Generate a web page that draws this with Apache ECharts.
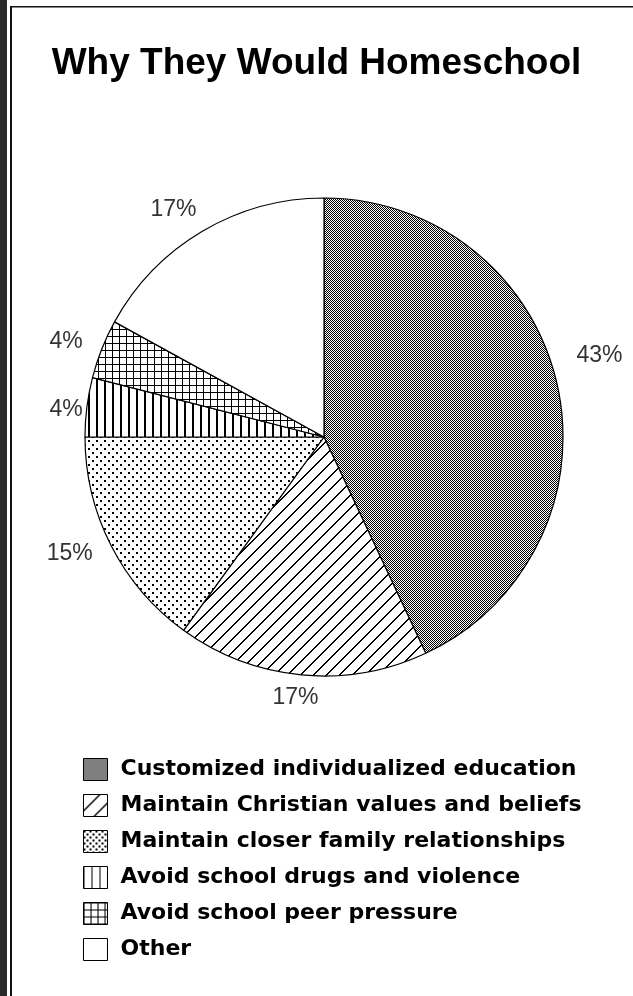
<!DOCTYPE html>
<html><head><meta charset="utf-8">
<script src="https://cdn.jsdelivr.net/npm/echarts@6/dist/echarts.min.js"></script>
<style>html,body{margin:0;padding:0;background:#fff}#c{width:633px;height:996px}</style>
</head><body><div id="c"></div>
<script>
const titleText = 'Why They Would Homeschool';
const categories = [
  'Customized individualized education',
  'Maintain Christian values and beliefs',
  'Maintain closer family relationships',
  'Avoid school drugs and violence',
  'Avoid school peer pressure',
  'Other'
];
const values = [43, 17, 15, 4, 4, 17];
const valueLabels = ['43%', '17%', '15%', '4%', '4%', '17%'];

// small nudges for label text (style tweak, px)
const labelNudge = [[10, -22], [-3, -10], [-12, -7], [12, 7], [-5, 5], [-12, 7]];

function pat(w, h, draw) {
  const c = document.createElement('canvas');
  c.width = w; c.height = h;
  const g = c.getContext('2d');
  g.fillStyle = '#fff'; g.fillRect(0, 0, w, h);
  g.fillStyle = '#000';
  draw(g, w, h);
  return { image: c, repeat: 'repeat' };
}
const checker = () => pat(2, 2, g => { g.fillRect(0, 0, 1, 1); g.fillRect(1, 1, 1, 1); });
const diag = p => pat(p, p, g => { for (let i = 0; i < p; i++) { g.fillRect(i, p - 1 - i, 1, 1); g.fillRect((i + 1) % p, p - 1 - i, 1, 1); } });
const dots = p => pat(p, p, g => { g.fillRect(0, 0, 2, 2); g.fillRect(p / 2, p / 2, 2, 2); });
const vert = (p, w) => pat(p, p, g => { g.fillRect(0, 0, w, p); });
const grid = p => pat(p, p, g => { g.fillRect(0, 0, 1, p); g.fillRect(0, 0, p, 1); });

const piePatterns = [checker(), diag(13), dots(8), vert(8, 2), grid(7), '#fff'];
const legendPatterns = [checker(), diag(16), dots(6), vert(8, 1), grid(7), '#fff'];

const chart = echarts.init(document.getElementById('c'), null, { renderer: 'canvas' });
const center = [324, 437];
const R = 239;

chart.setOption({
  backgroundColor: '#fff',
  animation: false,
  title: {
    text: titleText, left: 'center', top: 45, padding: 0,
    textStyle: { fontFamily: 'Liberation Sans, Arial, sans-serif', fontWeight: 'bold', fontSize: 37, color: '#000' }
  },
  legend: {
    orient: 'vertical', left: 83, top: 758, padding: 0,
    itemWidth: 24, itemHeight: 22, itemGap: 13, icon: 'rect',
    textStyle: { fontFamily: 'DejaVu Sans, Verdana, sans-serif', fontWeight: 'bold', fontSize: 22, color: '#000', padding: [0, 0, 0, 8] },
    data: categories.map((n, i) => ({ name: n, itemStyle: { color: legendPatterns[i], borderColor: '#000', borderWidth: 1 } })),
    selectedMode: false
  },
  graphic: [
    { type: 'rect', shape: { x: 0, y: 0, width: 7, height: 996 }, style: { fill: '#2a2a2a' }, silent: true },
    { type: 'rect', shape: { x: 10, y: 6, width: 2, height: 990 }, style: { fill: '#111' }, silent: true },
    { type: 'rect', shape: { x: 10, y: 6, width: 623, height: 1.5 }, style: { fill: '#111' }, silent: true }
  ],
  series: [
    {
      type: 'pie', center: center, radius: [0, R], startAngle: 90, clockwise: true,
      avoidLabelOverlap: false, silent: true,
      emphasis: { disabled: true },
      label: { show: false }, labelLine: { show: false },
      itemStyle: { borderColor: '#000', borderWidth: 1.2 },
      data: categories.map((n, i) => ({ name: n, value: values[i], itemStyle: { color: piePatterns[i] } }))
    },
    {
      type: 'pie', center: center, radius: [R, R + 60], startAngle: 90, clockwise: true,
      avoidLabelOverlap: false, silent: true,
      emphasis: { disabled: true },
      itemStyle: { color: 'rgba(0,0,0,0)', borderWidth: 0 },
      labelLine: { show: false },
      label: {
        show: true, position: 'inside', rotate: 0,
        fontFamily: 'Liberation Sans, Arial, sans-serif', fontSize: 23, color: '#333',
        formatter: p => valueLabels[p.dataIndex]
      },
      labelLayout: p => ({ dx: labelNudge[p.dataIndex][0], dy: labelNudge[p.dataIndex][1] }),
      data: categories.map((n, i) => ({ name: n, value: values[i] }))
    }
  ]
});
</script>
</body></html>
